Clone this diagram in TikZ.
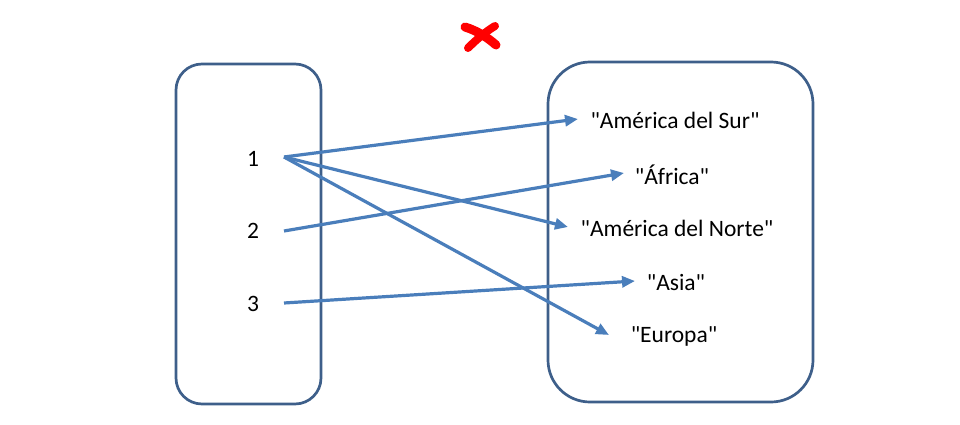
\documentclass[tikz,border=0pt]{standalone}
\usepackage{fontspec}
\newfontfamily\carlito{Carlito}
\usetikzlibrary{arrows.meta}
\definecolor{boxblue}{HTML}{3E5F8A}
\definecolor{arrowblue}{HTML}{4A7EBB}
\definecolor{crossred}{HTML}{FF0000}

\tikzset{
  setbox/.style={draw=boxblue, line width=2.7pt},
  maparrow/.style={arrowblue, line width=3.2pt, -{Triangle[length=13pt, width=11pt]}},
  elem/.style={font=\carlito\fontsize{23.5}{27}\selectfont, inner sep=0pt}
}

\begin{document}
\begin{tikzpicture}[x=1pt, y=-1pt]
  \useasboundingbox (0,0) rectangle (960,425);

  % Red cross on top
  \draw[crossred, line width=9pt, line cap=round] (465,27) .. controls (478,31) and (488,38) .. (496,45);
  \draw[crossred, line width=8pt, line cap=round] (495,26) .. controls (485,32) and (475,41) .. (468,48);

  % The two sets
  \draw[setbox, rounded corners=26pt] (176,64) rectangle (321,404);
  \draw[setbox, rounded corners=42pt] (548,62) rectangle (813,402);

  % Domain elements
  \node[elem] (n1) at (253,159) {1};
  \node[elem] (n2) at (253,231) {2};
  \node[elem] (n3) at (253,304) {3};

  % Codomain elements
  \node[elem] (sur) at (675,120) {"América del Sur"};
  \node[elem] (afr) at (672,175) {"África"};
  \node[elem] (nor) at (677,228) {"América del Norte"};
  \node[elem] (asi) at (676,282) {"Asia"};
  \node[elem] (eur) at (674,336) {"Europa"};

  % Arrow start and end points
  \coordinate (s1) at (284,157);
  \coordinate (s2) at (284,231);
  \coordinate (s3) at (284,303);
  \coordinate (tsur) at (578,119);
  \coordinate (tafr) at (624,173);
  \coordinate (tnor) at (568,227);
  \coordinate (tasi) at (635,281);
  \coordinate (teur) at (609,335);

  % Relation
  \draw[maparrow] (s1) -- (tsur);
  \draw[maparrow] (s1) -- (tnor);
  \draw[maparrow] (s1) -- (teur);
  \draw[maparrow] (s2) -- (tafr);
  \draw[maparrow] (s3) -- (tasi);
\end{tikzpicture}
\end{document}
